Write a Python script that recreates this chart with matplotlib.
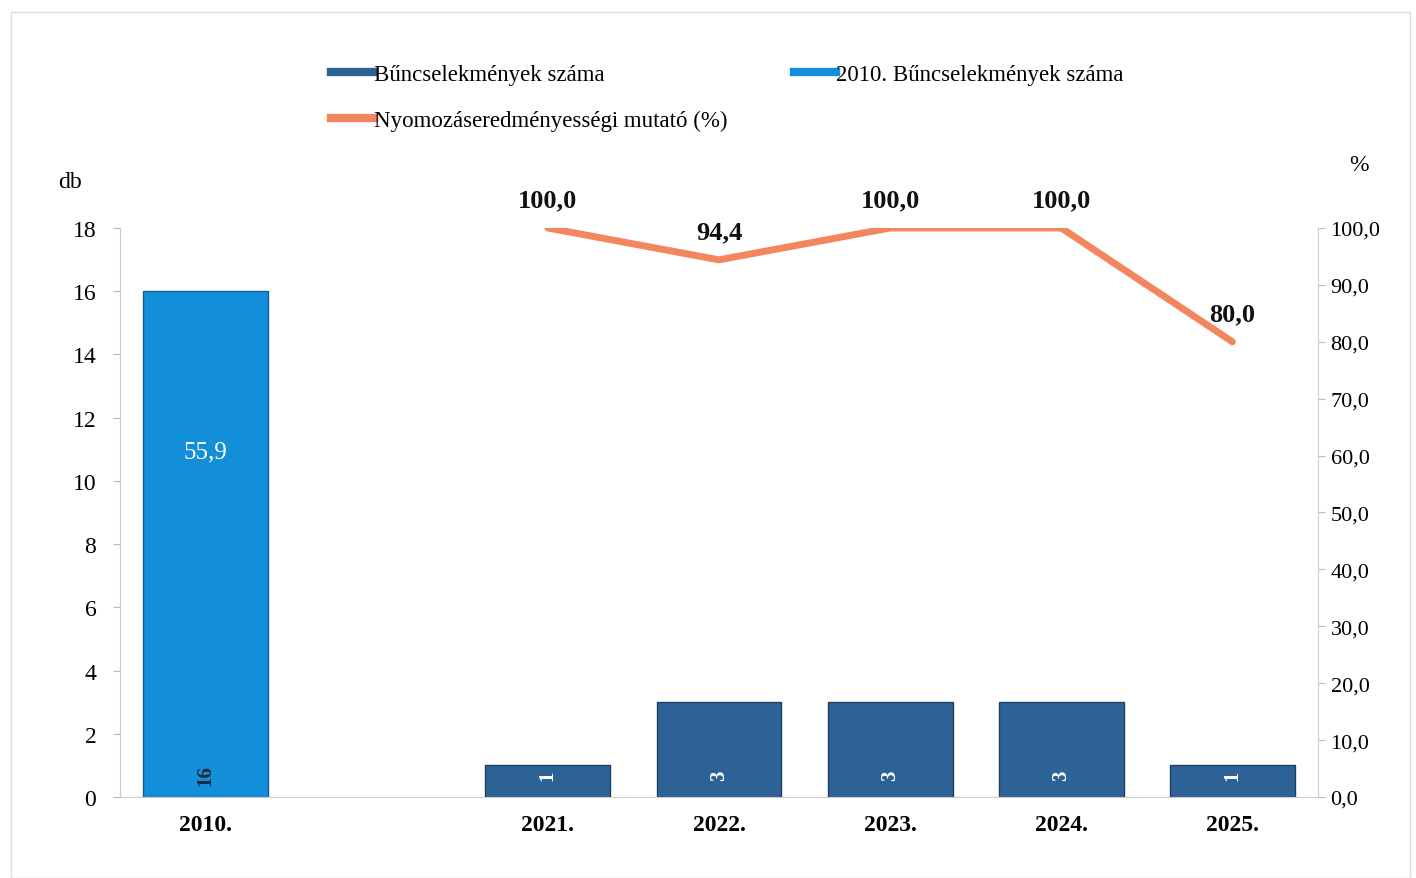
import matplotlib.pyplot as plt
import numpy as np
from matplotlib.patches import Rectangle
from matplotlib.lines import Line2D

plt.rcParams['font.family'] = ['Liberation Serif', 'DejaVu Serif']

# %% Data
categories = ['2010.', '', '2021.', '2022.', '2023.', '2024.', '2025.']
crimes_2010 = [16, np.nan, np.nan, np.nan, np.nan, np.nan, np.nan]
crimes = [np.nan, np.nan, 1, 3, 3, 3, 1]
rate_years = [2, 3, 4, 5, 6]          # slot index of 2021..2025
rate = [100.0, 94.4, 100.0, 100.0, 80.0]
rate_2010 = 55.9

DARK = '#2D6296'
LIGHT = '#138ED8'
ORANGE = '#F2865E'

# %% Figure
fig = plt.figure(figsize=(14.16, 8.79), dpi=100)
fig.patches.append(Rectangle((0.008, 0.0), 0.988, 0.985, transform=fig.transFigure,
                             fill=False, edgecolor='#dddddd', lw=1))
ax = fig.add_axes([0.0847, 0.0922, 0.8461, 0.6473])
ax2 = ax.twinx()

x = np.arange(len(categories))
w = 0.73
ax.bar(x, crimes, w, color=DARK, edgecolor='#1f3f5f', lw=1)
ax.bar(x, crimes_2010, w, color=LIGHT, edgecolor='#0d5f94', lw=1)

# counts written rotated near the bar bottom
for i in range(len(x)):
    if not np.isnan(crimes_2010[i]):
        ax.text(x[i], 0.7, str(int(crimes_2010[i])), rotation=90, ha='center',
                va='center', fontsize=15, fontweight='bold', color='#1a2a3a')
    if not np.isnan(crimes[i]):
        ax.text(x[i], 0.7, str(int(crimes[i])), rotation=90, ha='center',
                va='center', fontsize=15, fontweight='bold', color='white')

ax2.plot(rate_years, rate, color=ORANGE, lw=5, solid_capstyle='round')
for xi, v in zip(rate_years, rate):
    ax2.annotate(f'{v:.1f}'.replace('.', ','), (xi, v), xytext=(0, 12),
                 textcoords='offset points', ha='center', va='bottom',
                 fontsize=19, fontweight='bold', color='#111111')
ax2.annotate(f'{rate_2010:.1f}'.replace('.', ','), (x[0], rate_2010),
             xytext=(0, 12), textcoords='offset points', ha='center',
             va='bottom', fontsize=18, color='white')

# %% Axes
ax.set_xlim(-0.5, len(categories) - 0.5)
ax.set_ylim(0, 18)
ax.set_yticks(range(0, 19, 2))
ax2.set_ylim(0, 100)
ax2.set_yticks(range(0, 101, 10))
ax2.set_yticklabels([f'{v:.1f}'.replace('.', ',') for v in range(0, 101, 10)])
ax.set_xticks(x)
ax.set_xticklabels(categories, fontsize=17, fontweight='bold')
ax.tick_params(axis='x', length=0, pad=12)
ax.tick_params(axis='y', labelsize=17, length=5, color='#bbbbbb', pad=12)
ax2.tick_params(axis='y', labelsize=16, length=5, color='#bbbbbb', pad=4)
for a in (ax, ax2):
    for s in ['top', 'right', 'left']:
        a.spines[s].set_visible(False)
    a.spines['bottom'].set_color('#cccccc')
ax.spines['left'].set_visible(True)
ax.spines['left'].set_color('#cccccc')
ax2.spines['right'].set_visible(True)
ax2.spines['right'].set_color('#cccccc')
ax2.spines['bottom'].set_visible(False)

fig.text(0.041, 0.786, 'db', fontsize=17)
fig.text(0.953, 0.806, '%', fontsize=17)

handles = [Line2D([], [], color=DARK, lw=6),
           Line2D([], [], color=ORANGE, lw=6),
           Line2D([], [], color=LIGHT, lw=6)]
labels = ['Bűncselekmények száma', 'Nyomozáseredményességi mutató (%)',
          '2010. Bűncselekmények száma']
fig.legend(handles, labels, loc='upper left', bbox_to_anchor=(0.2195, 0.95),
           ncol=2, frameon=False, fontsize=16.5, handlelength=1.85,
           handletextpad=0.0, columnspacing=2.9, labelspacing=1.1)

fig.savefig('out.png', dpi=100)
